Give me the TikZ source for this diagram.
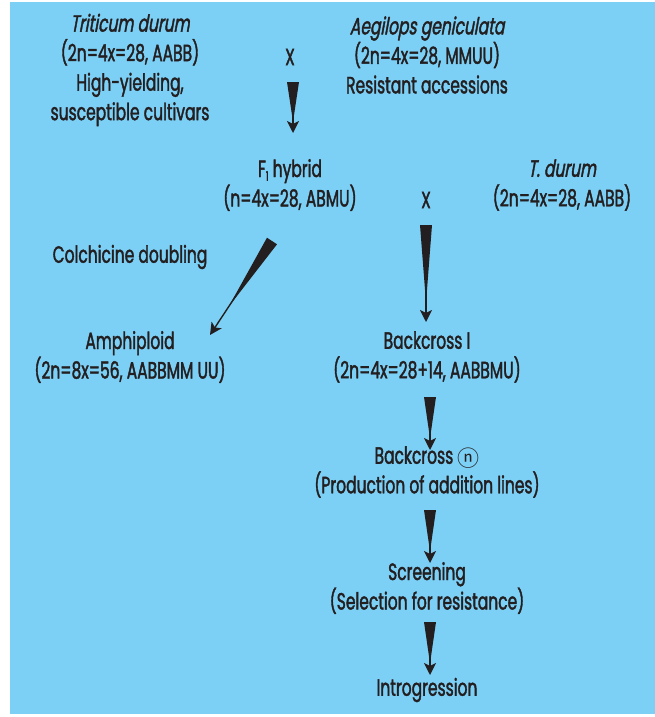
\documentclass[tikz,border=0pt]{standalone}
\usepackage{fontspec}
\setmainfont{Poppins}[FakeStretch=0.66, FakeBold=1.6, ItalicFont=Poppins, ItalicFeatures={FakeSlant=0.18, FakeBold=1.6}]
\newfontfamily\symfont{Noto Sans CJK SC}
\usetikzlibrary{calc,arrows.meta}
\definecolor{panel}{RGB}{125,208,245}
\definecolor{ink}{RGB}{35,31,32}

% tapered connector: a filled wedge that thins into a shaft with a stealth head
\newcommand\wedgeconn[3]{%
  \fill[ink] ($(#1)!6pt!90:(#2)$) -- ($(#1)!6pt!-90:(#2)$) -- ($(#1)!#3!(#2)$) -- cycle;
  \draw[ink, line width=1.4pt, -{Stealth[length=12pt,width=12pt,inset=3pt]}]
    ($(#1)!0.5!(#2)$) -- (#2);
}

\begin{document}
\begin{tikzpicture}[x=1pt,y=-1pt,
  lbl/.style={text=ink, align=center, inner sep=0pt,
    font=\fontsize{23.5}{29.5}\selectfont}]
\useasboundingbox (0,0) rectangle (655,717);
\fill[panel] (10,2) rectangle (655,714);

% parents
\node[lbl] (tdurum) at (130,70) {\textit{Triticum durum}\\(2n=4x=28, AABB)\\High-yielding,\\susceptible cultivars};
\node[lbl] (cross1) at (290,57) {X};
\node[lbl] (aegil) at (427,55) {\textit{Aegilops geniculata}\\(2n=4x=28, MMUU)\\Resistant accessions};

% F1 and backcross parent
\node[lbl] (fone) at (290,185) {F{\raisebox{-0.3ex}{\fontsize{13}{13}\selectfont 1}} hybrid\\(n=4x=28, ABMU)};
\node[lbl] (cross2) at (426,200) {X};
\node[lbl] (tdur2) at (562,185) {\textit{T. durum}\\(2n=4x=28, AABB)};

\node[lbl] (colch) at (130,257) {Colchicine doubling};
\node[lbl] (amphi) at (130,357) {Amphiploid\\(2n=8x=56, AABBMM UU)};
\node[lbl] (bc1) at (427,357) {Backcross I\\(2n=4x=28+14, AABBMU)};
\node[lbl] (bcn) at (427,472) {Backcross {\symfont\fontsize{22}{22}\selectfont\raisebox{-0.25ex}{ⓝ}}\\(Production of addition lines)};
\node[lbl] (screen) at (427,588) {Screening\\(Selection for resistance)};
\node[lbl] (intro) at (427,690) {Introgression};

% connector end points
\coordinate (a1s) at (293,82);  \coordinate (a1e) at (293,133);
\coordinate (a2s) at (426,225); \coordinate (a2e) at (426,322);
\coordinate (d1s) at (272,241); \coordinate (d1e) at (210,335);
\coordinate (a3s) at (430,397); \coordinate (a3e) at (430,450);
\coordinate (a4s) at (430,510); \coordinate (a4e) at (430,563);
\coordinate (a5s) at (430,622); \coordinate (a5e) at (430,675);

\wedgeconn{a1s}{a1e}{0.78}
\wedgeconn{a2s}{a2e}{0.8}
\wedgeconn{d1s}{d1e}{0.7}
\wedgeconn{a3s}{a3e}{0.78}
\wedgeconn{a4s}{a4e}{0.78}
\wedgeconn{a5s}{a5e}{0.78}
\end{tikzpicture}
\end{document}
